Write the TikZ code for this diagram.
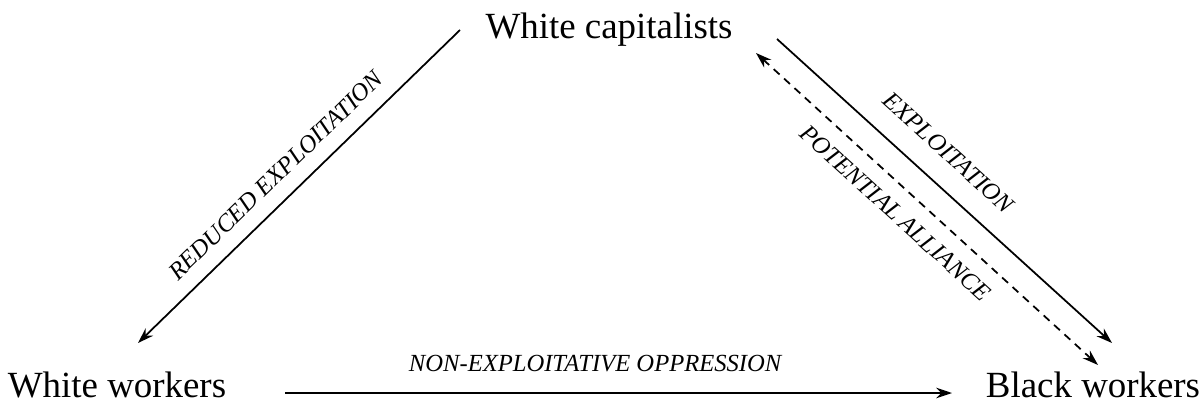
\documentclass[tikz,border=0pt]{standalone}
\usepackage{fontspec}
\setmainfont{Liberation Serif}
\usepackage{tikz}
\usetikzlibrary{arrows.meta,calc}

\begin{document}
\begin{tikzpicture}[x=0.02cm, y=-0.02cm, >={Stealth[length=9pt, width=6pt]},
  g/.style={font=\fontsize{21}{24}\selectfont, inner sep=0pt, anchor=base},
  r/.style={->, line width=1pt},
  d/.style={<->, line width=1pt, dash pattern=on 4.5pt off 3.5pt},
  l/.style={font=\fontsize{14}{16}\selectfont\itshape, inner sep=0pt, sloped}]
  \useasboundingbox (0,0) rectangle (1202,406);
  \node[g] (cap) at (609,38) {White capitalists};
  \node[g] (ww) at (117,397) {White workers};
  \node[g] (bw) at (1093,397) {Black workers};
  \draw[r] ($(cap.base)+(-149,-8)$) -- ($(ww.base)+(21,-54)$)
    node[l, pos=.52, above=0.3cm] {REDUCED EXPLOITATION};
  \draw[r] ($(cap.base)+(168,1)$) -- ($(bw.base)+(19,-54)$)
    node[l, pos=.45, above=0.44cm] {EXPLOITATION};
  \draw[d] ($(cap.base)+(147,15)$) -- ($(bw.base)+(5,-32)$)
    node[l, pos=.455, below=0.3cm] {POTENTIAL ALLIANCE};
  \draw[r] ($(ww.base)+(168,-4)$) -- ($(bw.base)+(-141,-4)$)
    node[l, pos=.465, above=0.4cm] {NON-EXPLOITATIVE OPPRESSION};
\end{tikzpicture}
\end{document}
